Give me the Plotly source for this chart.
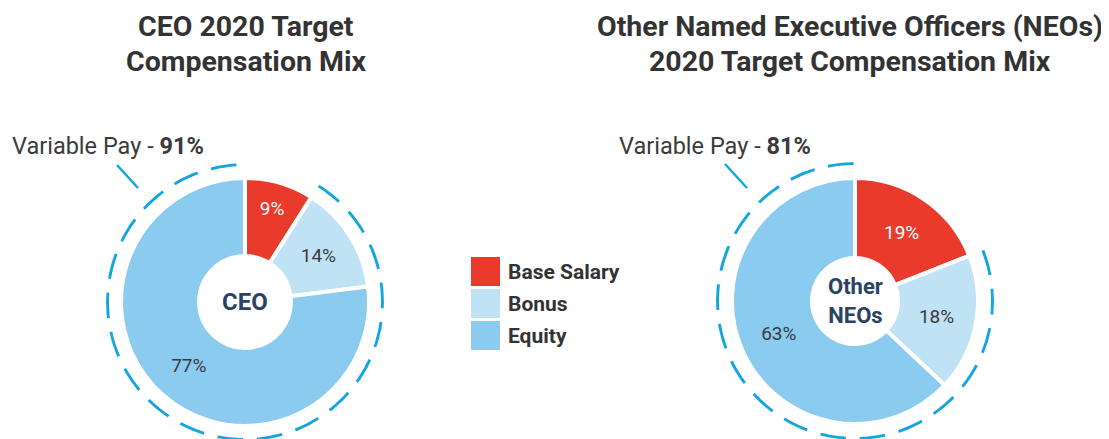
import numpy as np
import plotly.graph_objects as go

# the page body has an 8px margin, so the figure is drawn 8px in from the top-left
OFF = 8
W, H = 1109 - OFF, 439

categories = ["Base Salary", "Bonus", "Equity"]
ceo_values = [9, 14, 77]
neo_values = [19, 18, 63]
ceo_variable = 91
neo_variable = 81
colors = ["#EA3A2B", "#C0E2F5", "#8ACBEF"]
text_colors = ["#FFFFFF", "#3A3A3A", "#3A3A3A"]
ring_color = "#14A5E0"
FONT = "Roboto"


def px_x(x):
    return (x - OFF) / W


def px_y(y):
    return 1 - (y - OFF) / H


def dom(cx, cy, r):
    x0, x1 = max(0, px_x(cx - r)), min(1, px_x(cx + r))
    y0, y1 = max(0, px_y(cy + r)), min(1, px_y(cy - r))
    return dict(x=[x0, x1], y=[y0, y1])


fig = go.Figure()

RING = 139  # radius of the dashed ring, px

charts = [
    # values, center, pie radius, hole, centre label, polar id, label size
    (ceo_values, (245, 302), 124, 0.37, "<b>CEO</b>", "polar", 24),
    (neo_values, (855, 301), 123, 0.35, "<b>Other<br>NEOs</b>", "polar2", 22),
]

for values, (cx, cy), r, hole, label, pol, lsize in charts:
    fig.add_trace(go.Pie(
        labels=categories, values=values, sort=False, direction="clockwise", rotation=0,
        hole=hole, domain=dom(cx, cy, r),
        marker=dict(colors=colors, line=dict(color="white", width=4)),
        texttemplate="%{value}%", textposition="inside", insidetextorientation="horizontal",
        textfont=dict(family=FONT, size=19, color=text_colors),
        showlegend=False, hoverinfo="label+value",
    ))
    # dashed arc over the variable-pay part (bonus + equity)
    start = values[0] / sum(values) * 360
    theta = np.linspace(start, 360, 240)
    fig.add_trace(go.Scatterpolar(
        r=np.ones_like(theta), theta=theta, mode="lines", subplot=pol,
        line=dict(color=ring_color, width=6, dash="26px,14px"),
        cliponaxis=False, showlegend=False, hoverinfo="skip",
    ))
    fig.add_annotation(x=px_x(cx), y=px_y(cy), xref="paper", yref="paper", text=label,
                       xanchor="center", yanchor="middle", showarrow=False,
                       font=dict(family=FONT, size=lsize, color="#2B4263"))

polar_style = dict(
    bgcolor="rgba(0,0,0,0)",
    radialaxis=dict(visible=False, range=[0, 1]),
    angularaxis=dict(visible=False, rotation=90, direction="clockwise"),
)
fig.update_layout(
    polar=dict(domain=dom(245, 302, RING), **polar_style),
    polar2=dict(domain=dom(855, 301, RING), **polar_style),
)

# titles, one annotation per line
titles = [
    (246, ["CEO 2020 Target", "Compensation Mix"]),
    (850, ["Other Named Executive Officers (NEOs)", "2020 Target Compensation Mix"]),
]
for x, lines in titles:
    for ly, t in zip([27, 62], lines):
        fig.add_annotation(x=px_x(x), y=px_y(ly), xref="paper", yref="paper",
                           xanchor="center", yanchor="middle",
                           text=f"<b>{t}</b>", showarrow=False,
                           font=dict(family=FONT, size=28.5, color="#333333"))

# variable pay callouts
callouts = [((10, 146), (117, 165), (138, 188), ceo_variable),
            ((617, 146), (725, 164), (747, 188), neo_variable)]
for (tx, ty), (x0, y0), (x1, y1), v in callouts:
    fig.add_annotation(x=px_x(tx), y=px_y(ty), xref="paper", yref="paper",
                       xanchor="left", yanchor="middle",
                       text=f"Variable Pay - <b>{v}%</b>", showarrow=False,
                       font=dict(family=FONT, size=23.5, color="#3A3A3A"))
    fig.add_shape(type="line", xref="paper", yref="paper",
                  x0=px_x(x0), y0=px_y(y0), x1=px_x(x1), y1=px_y(y1),
                  line=dict(color=ring_color, width=2.5))

# legend drawn by hand (large swatches)
for i, (cat, col) in enumerate(zip(categories, colors)):
    top = 257 + i * 32
    fig.add_shape(type="rect", xref="paper", yref="paper",
                  x0=px_x(471), x1=px_x(500), y0=px_y(top), y1=px_y(top + 29),
                  fillcolor=col, line=dict(width=0))
    fig.add_annotation(x=px_x(506), y=px_y(top + 15), xref="paper", yref="paper",
                       xanchor="left", yanchor="middle",
                       text=f"<b>{cat}</b>", showarrow=False,
                       font=dict(family=FONT, size=21, color="#333333"))

fig.update_layout(
    width=W, height=H, margin=dict(l=0, r=0, t=0, b=0),
    paper_bgcolor="white", plot_bgcolor="white",
    font=dict(family=FONT),
)

fig.write_html("out.html")
